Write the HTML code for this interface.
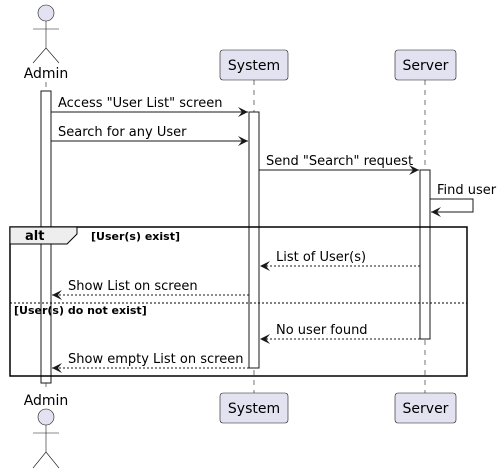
<!DOCTYPE html>
<html><head><meta charset="utf-8"><style>html,body{margin:0;padding:0;background:#fff}svg{display:block}</style></head><body>
<svg width="502" height="473" xmlns="http://www.w3.org/2000/svg" font-family="DejaVu Sans, Liberation Sans, sans-serif" font-size="13">
<defs>
<marker id="a" viewBox="0 0 10 10" refX="10" refY="5" markerWidth="12" markerHeight="10" orient="auto" markerUnits="userSpaceOnUse"><path d="M0,0 L10,5 L0,10 L4,5 Z" fill="#181818"/></marker>
</defs>
<g stroke="#181818" stroke-width="0.6" stroke-dasharray="5,5">
<line x1="46" y1="82" x2="46" y2="392"/>
<line x1="254" y1="80" x2="254" y2="393"/>
<line x1="425" y1="80" x2="425" y2="393"/>
</g>
<g stroke="#181818" stroke-width="0.6" fill="none">
<circle cx="46" cy="13" r="8" fill="#E2E2F0"/>
<line x1="46" y1="21" x2="46" y2="48"/><line x1="33" y1="29" x2="59" y2="29"/>
<line x1="46" y1="48" x2="33" y2="63"/><line x1="46" y1="48" x2="59" y2="63"/>
<circle cx="46" cy="417" r="8" fill="#E2E2F0"/>
<line x1="46" y1="425" x2="46" y2="452"/><line x1="33" y1="433" x2="59" y2="433"/>
<line x1="46" y1="452" x2="33" y2="468"/><line x1="46" y1="452" x2="59" y2="468"/>
</g>
<text x="46" y="78" text-anchor="middle" font-size="14">Admin</text>
<text x="46" y="405" text-anchor="middle" font-size="14">Admin</text>
<g fill="#E2E2F0" stroke="#181818" stroke-width="0.6">
<rect x="220" y="50" width="68" height="30" rx="3"/>
<rect x="395" y="50" width="61" height="30" rx="3"/>
<rect x="220" y="393" width="68" height="30" rx="3"/>
<rect x="395" y="393" width="61" height="30" rx="3"/>
</g>
<g font-size="14" text-anchor="middle">
<text x="254" y="70">System</text><text x="425.5" y="70">Server</text>
<text x="254" y="413">System</text><text x="425.5" y="413">Server</text>
</g>
<g fill="#fff" stroke="#181818" stroke-width="1">
<rect x="41" y="91" width="10" height="292"/>
<rect x="249" y="112" width="10" height="256"/>
<rect x="420" y="170" width="10" height="169"/>
</g>
<rect x="10" y="227" width="457" height="149" fill="none" stroke="#000" stroke-width="1.5"/>
<path d="M10,227 L77,227 L77,234 L67,244 L10,244 Z" fill="#EEEEEE" stroke="#000" stroke-width="1"/>
<text x="25" y="240" font-weight="bold">alt</text>
<text x="91" y="240" font-size="11" font-weight="bold">[User(s) exist]</text>
<line x1="10" y1="303" x2="467" y2="303" stroke="#000" stroke-width="1" stroke-dasharray="2,2"/>
<text x="14" y="314" font-size="11" font-weight="bold">[User(s) do not exist]</text>
<g stroke="#181818" stroke-width="1" fill="none">
<line x1="51" y1="112" x2="248" y2="112" marker-end="url(#a)"/>
<line x1="51" y1="141" x2="248" y2="141" marker-end="url(#a)"/>
<line x1="259" y1="170" x2="419" y2="170" marker-end="url(#a)"/>
<polyline points="430,199 473,199 473,212 431,212" marker-end="url(#a)"/>
<line x1="420" y1="266" x2="260" y2="266" stroke-dasharray="2,2" marker-end="url(#a)"/>
<line x1="249" y1="295" x2="52" y2="295" stroke-dasharray="2,2" marker-end="url(#a)"/>
<line x1="420" y1="339" x2="260" y2="339" stroke-dasharray="2,2" marker-end="url(#a)"/>
<line x1="249" y1="368" x2="52" y2="368" stroke-dasharray="2,2" marker-end="url(#a)"/>
</g>
<text x="58" y="107">Access "User List" screen</text>
<text x="58" y="136">Search for any User</text>
<text x="266" y="165">Send "Search" request</text>
<text x="437" y="194">Find user</text>
<text x="276" y="261">List of User(s)</text>
<text x="68" y="290">Show List on screen</text>
<text x="276" y="334">No user found</text>
<text x="68" y="363">Show empty List on screen</text>
</svg>
</body></html>
